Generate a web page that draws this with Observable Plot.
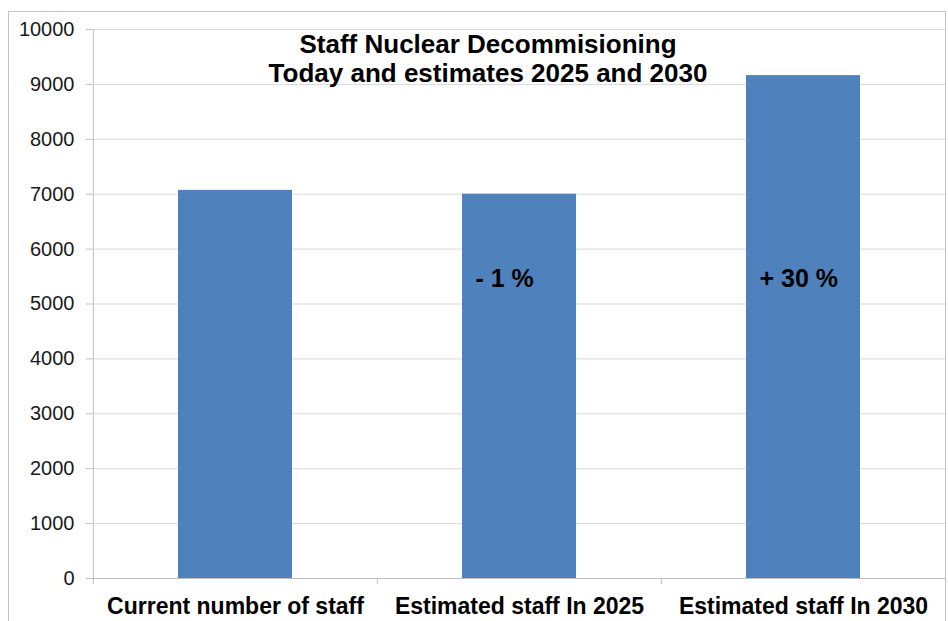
<!DOCTYPE html>
<html><head><meta charset="utf-8">
<script src="https://cdn.jsdelivr.net/npm/d3@7"></script>
<script src="https://cdn.jsdelivr.net/npm/@observablehq/plot@0.6"></script>
<style>
body{margin:0;background:#fff;}
#wrap{position:relative;width:948px;height:621px;overflow:hidden;background:#fff;}
#border{position:absolute;left:8px;top:11px;width:938px;height:640px;border:1px solid #c4c4c4;box-sizing:border-box;pointer-events:none;}
#chart{position:absolute;left:0;top:0;}
</style></head><body>
<div id="wrap"><div id="chart"></div><div id="border"></div></div>
<script>
// Data
const categories = ["Current number of staff", "Estimated staff In 2025", "Estimated staff In 2030"];
const staff = [7070, 7000, 9160];
const changeLabels = ["", "- 1 %", "+ 30 %"];
const changeLabelLevel = [5450, 5450, 5450];
const yTicks = [0, 1000, 2000, 3000, 4000, 5000, 6000, 7000, 8000, 9000, 10000];
const titleLines = ["Staff Nuclear Decommisioning", "Today and estimates 2025 and 2030"];

const W = 948, H = 621, mL = 92, mR = 3, mT = 29, mB = 43;
const half = (W - mL - mR) / categories.length / 2;
const rows = categories.map((c, i) => ({category: c, staff: staff[i], label: changeLabels[i], level: changeLabelLevel[i]}));
const axisGray = "#bfbfbf";

const chart = Plot.plot({
  width: W, height: H,
  marginLeft: mL, marginRight: mR, marginTop: mT, marginBottom: mB,
  style: {fontFamily: "'Liberation Sans', Arial, sans-serif", background: "transparent", color: "#000"},
  x: {domain: categories, paddingInner: 0.6, paddingOuter: 0.3, label: null},
  y: {domain: [0, 10000], label: null},
  marks: [
    Plot.gridY(yTicks, {stroke: "#d9d9d9", strokeOpacity: 1}),
    Plot.axisY(yTicks, {tickSize: 6, tickPadding: 12, fontSize: 20, stroke: axisGray, fill: "#1a1a1a", tickFormat: d => String(d), label: null}),
    Plot.barY(rows, {x: "category", y: "staff", fill: "#4f81bd"}),
    Plot.ruleY([0], {stroke: axisGray}),
    // left axis line (boundary before first category)
    Plot.ruleX([categories[0]], {x: d => d, y1: 0, y2: 10000, dx: -half, insetTop: 6, stroke: axisGray}),
    // category boundary ticks
    Plot.ruleX(categories.slice(1), {x: d => d, y1: 0, y2: 0, dx: -half, insetTop: 6, stroke: axisGray}),
    Plot.ruleX(categories.slice(-1), {x: d => d, y1: 0, y2: 0, dx: half, insetTop: 6, stroke: axisGray}),
    Plot.axisX({tickSize: 0, tickPadding: 19, fontSize: 23, fontWeight: "bold", fill: "#000", label: null}),
    Plot.text(rows.filter(d => d.label), {x: "category", y: "level", text: "label", textAnchor: "start", dx: -44, fontSize: 25, fontWeight: "bold", fill: "#000"}),
    Plot.text([titleLines.join("\n")], {frameAnchor: "top", dx: -31, dy: 4, fontSize: 26, fontWeight: "bold", lineHeight: 1.08, fill: "#000"})
  ]
});
document.getElementById("chart").appendChild(chart);
</script>
</body></html>
